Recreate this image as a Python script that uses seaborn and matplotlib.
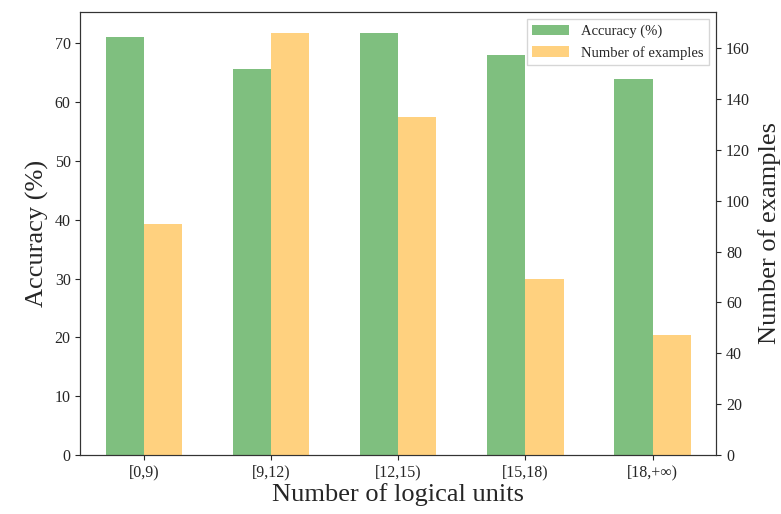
import numpy as np
import pandas as pd
import seaborn as sns
import matplotlib.pyplot as plt
from matplotlib.patches import Patch

# bucket labels and the two series
units = ['[0,9)', '[9,12)', '[12,15)', '[15,18)', '[18,+\u221e)']
accuracy = [71.1, 65.6, 71.8, 68.1, 63.9]
examples = [91, 166, 133, 69, 47]

series = ['Accuracy (%)', 'Number of examples']
green = (0.0, 0.5, 0.0, 0.5)
orange = (1.0, 0.647, 0.0, 0.5)

sns.set_style('ticks')
plt.rcParams['font.family'] = ['Liberation Serif', 'DejaVu Serif']

# long table, each axis only gets its own series (other one is NaN)
df = pd.DataFrame({
    'unit': units * 2,
    'series': [series[0]] * len(units) + [series[1]] * len(units),
    'acc': accuracy + [np.nan] * len(units),
    'ex': [np.nan] * len(units) + examples,
})

fig, ax = plt.subplots(figsize=(7.81, 5.14), dpi=100)
ax2 = ax.twinx()

palette = {series[0]: green, series[1]: orange}
sns.barplot(data=df, x='unit', y='acc', hue='series', hue_order=series,
            palette=palette, width=0.6, saturation=1, linewidth=0, ax=ax, legend=False)
sns.barplot(data=df, x='unit', y='ex', hue='series', hue_order=series,
            palette=palette, width=0.6, saturation=1, linewidth=0, ax=ax2, legend=False)

ax.set_xlabel('Number of logical units', fontsize=19, labelpad=2)
ax.set_ylabel('Accuracy (%)', fontsize=19, labelpad=4)
ax2.set_ylabel('Number of examples', fontsize=19, labelpad=6)
ax.tick_params(labelsize=11.5)
ax2.tick_params(labelsize=11.5)
for a in (ax, ax2):
    for spine in a.spines.values():
        spine.set_visible(True)
        spine.set_color('#333333')

handles = [Patch(facecolor=green, edgecolor='none', label=series[0]),
           Patch(facecolor=orange, edgecolor='none', label=series[1])]
ax2.legend(handles=handles, loc='upper right', fontsize=10.5, fancybox=False,
           handlelength=2.5)

plt.subplots_adjust(left=0.103, right=0.917, top=0.977, bottom=0.115)
plt.savefig('out.png', dpi=100)
